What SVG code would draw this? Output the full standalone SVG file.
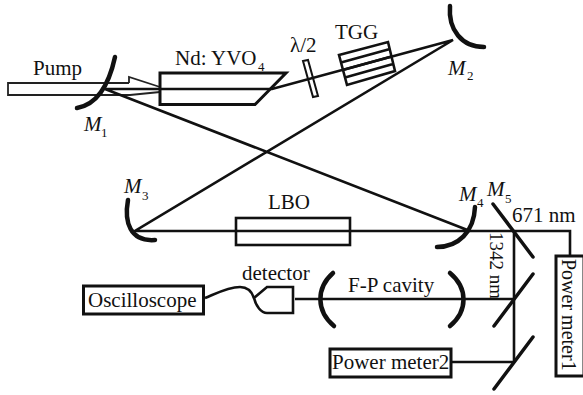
<svg xmlns="http://www.w3.org/2000/svg" width="583" height="395" viewBox="0 0 583 395">
<style>
text{font-family:"Liberation Serif","Times New Roman",serif;font-size:21px;fill:#111}
.m{font-style:italic}
.s{font-size:13px}
.l{fill:none;stroke:#111;stroke-width:2.6}
.t{fill:none;stroke:#222;stroke-width:1.8}
.b{fill:none;stroke:#111;stroke-width:3}
.mir{fill:none;stroke:#111;stroke-width:4.500;stroke-linecap:round}
</style>
<rect width="583" height="395" fill="#fff"/>
<g id="pump"><path class="t" d="M129 83H8V95H130L160 92M129 83L129 77L160 87"/><text x="33" y="75">Pump</text></g>
<g id="connectors">
<path class="l" d="M105 89H272L453 40L135 231H570V256M105 89L470 231M514 231V362M295 299H514M451 362H514"/>
<path class="l" d="M205 298C215 294 228 287 240 287C248 287 252 292 254 298"/>
</g>
<g id="crystal"><path class="l" style="stroke-width:3" d="M160 73H286L255 104.500H160Z"/><text x="175" y="65">Nd: YVO</text><text class="s" x="258" y="71">4</text></g>
<g id="waveplate"><path class="l" style="stroke-width:2" d="M303 61L308 60L318 96L313 97Z"/><text x="290" y="52">λ/2</text></g>
<g id="tgg"><path class="l" d="M339 55L388 42L395 71L347 85ZM341 62.500L390 49M343 70L391.500 56.500M345 77.500L393 64"/><text x="335" y="39">TGG</text></g>
<g id="m1"><path class="mir" d="M115 57C110 80 100 104 77 108"/><text class="m" x="84" y="131">M</text><text class="s" x="101" y="137">1</text></g>
<g id="m2"><path class="mir" d="M450 6C448 30 462 47 484 47"/><text class="m" x="448" y="75">M</text><text class="s" x="467" y="80">2</text></g>
<g id="m3"><path class="mir" d="M128 200C124 222 130 242 155 240"/><text class="m" x="124" y="193">M</text><text class="s" x="142" y="200">3</text></g>
<g id="m4"><path class="mir" d="M475 207C474 232 458 247 437 247"/><text class="m" x="459" y="201">M</text><text class="s" x="477" y="207">4</text></g>
<g id="m5"><path class="mir" d="M493 204L533 257" style="stroke-width:3.500"/><text class="m" x="487" y="196">M</text><text class="s" x="505" y="203">5</text></g>
<g id="lbo"><rect class="l" x="236" y="218" width="114" height="27"/><text x="268" y="209">LBO</text></g>
<g id="label671"><text x="512" y="222">671 nm</text></g>
<g id="label1342"><text style="font-size:19px" transform="translate(490 232) rotate(90)">1342 nm</text></g>
<g id="oscilloscope"><rect class="b" x="83.500" y="286" width="120" height="28"/><text x="88" y="307">Oscilloscope</text></g>
<g id="detector"><path class="l" d="M293 287H267L254 298C256 306 261 313 267 313H293Z"/><text x="242" y="280">detector</text></g>
<g id="fp"><path class="mir" d="M333 273C316 288 316 311 334 326M450 273C468 288 468 311 450 326"/><text x="348" y="292">F-P cavity</text></g>
<g id="mirrors"><path class="mir" style="stroke-width:3.500" d="M533 274L494 326M533 337L494 389"/></g>
<g id="pm1"><rect class="b" x="556" y="256" width="28" height="120"/><text style="font-size:20px" transform="translate(562 259) rotate(90)">Power meter1</text></g>
<g id="pm2"><rect class="b" x="330" y="349" width="121" height="28"/><text x="332" y="369">Power meter2</text></g>
</svg>
